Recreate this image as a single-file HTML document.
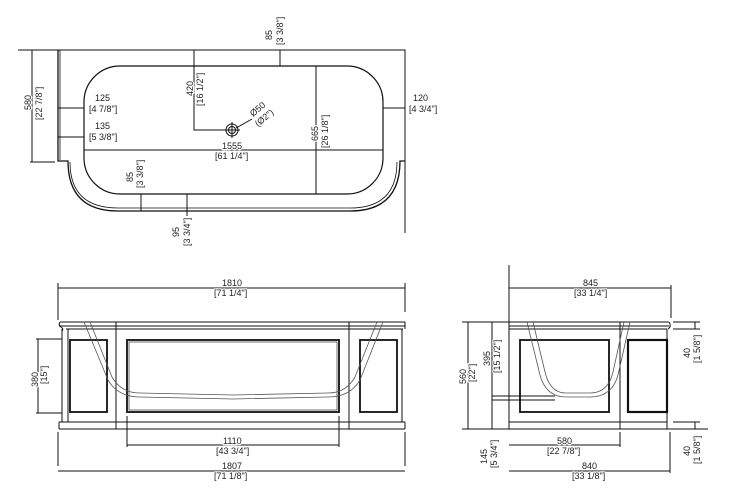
<!DOCTYPE html>
<html><head><meta charset="utf-8"><style>
html,body{margin:0;padding:0;background:#fff;width:730px;height:497px;overflow:hidden}
svg text{font-family:"Liberation Sans",sans-serif;font-size:9px;fill:#222;stroke:#fff;stroke-width:2.5px;paint-order:stroke;stroke-linejoin:round}
</style></head><body>
<svg width="730" height="497" viewBox="0 0 730 497" xmlns="http://www.w3.org/2000/svg">
<g stroke="#111" fill="none" stroke-width="1">
<!-- TOP VIEW -->
<path d="M18 50 H405 V233" />
<path d="M58 50 V161 H68 Q68 211 118 211 H350 Q400 211 400 161 H405" stroke-width="1.3"/>
<path d="M60 50 V160 M70 162 Q70 208 118 208 H350 Q397 208 397 162" stroke-width="0.8"/>
<rect x="84" y="66" width="299" height="128" rx="36" stroke-width="1.2"/>
<path d="M32 50 V162 M30 162 H55"/>
<path d="M280 50 V66"/>
<path d="M194 50 V130 H232"/>
<circle cx="232" cy="130" r="6"/><circle cx="232" cy="130" r="3.5"/>
<path d="M232 122 V138 M224 130 H240 M236 128 L252 119"/>
<path d="M58 108 H84 M58 137 H84 M84 150 H383 M316 66 V194 M383 108 H405"/>
<path d="M141 194 V211 M187 194 V216 M141 211 H187" />
<!-- FRONT VIEW -->
<path d="M58 288 H405 M58 283 V320 M405 283 V312 M58 466 V432 M405 466 V432"/>
<path d="M60 322 H405 M59 326 H405 M66 329 H403" />
<path d="M60 322 Q58 325 61 327 Q64 329 62 331 M405 322 V329"/>
<path d="M62 329 V422 M68 329 V422 M402 329 V422 M116 322 V429 M349 322 V429"/>
<path d="M59 422 H405 M59 429 H405 M59 422 V429 M405 422 V429"/>
<rect x="70" y="340" width="37" height="72" stroke-width="1.8"/>
<rect x="127" y="340" width="212" height="72" stroke-width="1.8"/>
<rect x="129" y="342" width="208" height="68" stroke-width="0.6"/>
<rect x="360" y="340" width="37" height="72" stroke-width="1.8"/>
<path d="M84 322 L108 380 Q118 397 140 397 L233 399 L328 397 Q350 397 360 380 L383 322" stroke="#555" stroke-width="0.8"/>
<path d="M90 322 L112 377 Q121 393 140 393 L233 395 L328 393 Q346 393 355 377 L377 322" stroke="#555" stroke-width="0.8"/>
<path d="M38 339 V413 M36 339 H62 M36 413 H62"/>
<path d="M127 416 V447 M339 416 V447 M127 445 H339 M58 471 H405"/>
<!-- SIDE VIEW -->
<path d="M509 265 V429 M509 288 H671 M671 285 V318"/>
<path d="M509 322 H669 M509 326 H669 M509 329 H667 M669 322 Q672 326 668 329"/>
<path d="M620 322 V429 M667 329 V422 M509 422 H667 M509 429 H708 M667 422 V429"/>
<rect x="520" y="340" width="89" height="72" stroke-width="1.8"/>
<rect x="628" y="340" width="39" height="72" stroke-width="2.2"/>
<path d="M527 322 L540 375 Q546 397 566 397 L590 397 Q612 397 618 375 L630 322" stroke="#555" stroke-width="0.8"/>
<path d="M533 322 L545 372 Q550 393 566 393 L590 393 Q608 393 613 372 L624 322" stroke="#555" stroke-width="0.8"/>
<path d="M468 322 V429 M462 322 H509 M462 429 H509"/>
<path d="M492 322 V429 M492 396 H555 M492 400 H555"/>
<path d="M695 322 V329 M673 322 H700 M673 329 H700 M695 422 V429 M673 422 H700"/>
<path d="M509 445 H620 M620 432 V447 M509 471 H670 M670 432 V473"/>
</g>
<!-- text -->
<g>
<text transform="translate(272,40) rotate(-90)">85</text>
<text transform="translate(283,45) rotate(-90)">[3 3/8"]</text>
<text transform="translate(31,110) rotate(-90)">580</text>
<text transform="translate(42,120) rotate(-90)">[22 7/8"]</text>
<text transform="translate(193,96) rotate(-90)">420</text>
<text transform="translate(203,106) rotate(-90)">[16 1/2"]</text>
<text transform="translate(253,117) rotate(-40)">Ø50</text>
<text transform="translate(258,127) rotate(-40)">(Ø2")</text>
<text x="95" y="101">125</text><text x="89" y="112">[4 7/8"]</text>
<text x="95" y="129">135</text><text x="89" y="140">[5 3/8"]</text>
<text x="222" y="149">1555</text><text x="215" y="159">[61 1/4"]</text>
<text transform="translate(318,141) rotate(-90)">665</text>
<text transform="translate(328,148) rotate(-90)">[26 1/8"]</text>
<text x="413" y="101">120</text><text x="409" y="112">[4 3/4"]</text>
<text transform="translate(133,182) rotate(-90)">85</text>
<text transform="translate(143,188) rotate(-90)">[3 3/8"]</text>
<text transform="translate(179,237) rotate(-90)">95</text>
<text transform="translate(190,246) rotate(-90)">[3 3/4"]</text>
<text x="222" y="286">1810</text><text x="214" y="296">[71 1/4"]</text>
<text transform="translate(38,387) rotate(-90)">380</text>
<text transform="translate(47,384) rotate(-90)">[15"]</text>
<text x="223" y="444">1110</text><text x="216" y="454">[43 3/4"]</text>
<text x="222" y="469">1807</text><text x="214" y="479">[71 1/8"]</text>
<text x="583" y="286">845</text><text x="574" y="296">[33 1/4"]</text>
<text transform="translate(466,384) rotate(-90)">560</text>
<text transform="translate(475,382) rotate(-90)">[22"]</text>
<text transform="translate(490,366) rotate(-90)">395</text>
<text transform="translate(500,373) rotate(-90)">[15 1/2"]</text>
<text transform="translate(487,464) rotate(-90)">145</text>
<text transform="translate(497,468) rotate(-90)">[5 3/4"]</text>
<text transform="translate(690,358) rotate(-90)">40</text>
<text transform="translate(700,363) rotate(-90)">[1 5/8"]</text>
<text transform="translate(690,456) rotate(-90)">40</text>
<text transform="translate(700,464) rotate(-90)">[1 5/8"]</text>
<text x="557" y="444">580</text><text x="547" y="454">[22 7/8"]</text>
<text x="582" y="469">840</text><text x="572" y="479">[33 1/8"]</text>
</g>
</svg>
</body></html>
